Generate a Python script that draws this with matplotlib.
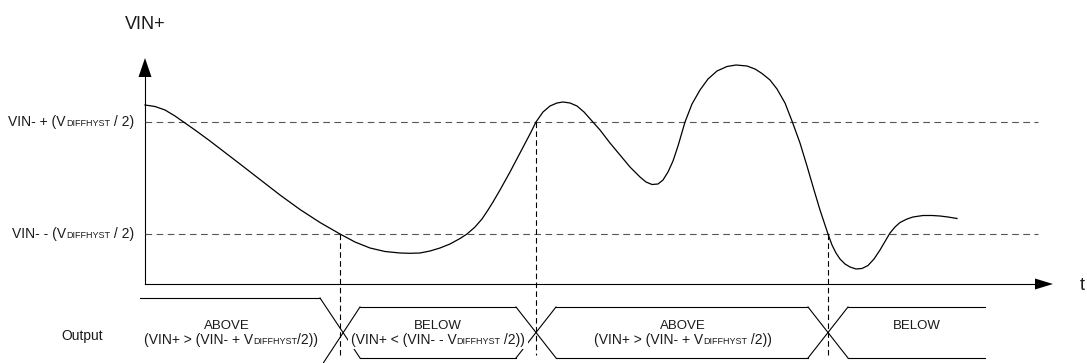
import matplotlib
matplotlib.use("Agg")
import matplotlib.pyplot as plt
from matplotlib.patches import Rectangle

plt.rcParams['font.family'] = ['Liberation Sans', 'DejaVu Sans']

# ---------------- data (diagram units: x = time, y = level, y grows downward) -------------
curve_t = [145, 155, 165, 175, 185, 195, 210, 225, 240, 260, 280, 300, 320, 340,
           355, 370, 385, 400, 410, 420, 430, 440, 450, 460, 467, 475, 482, 488, 493,
           500, 510, 520, 530, 536, 543, 550, 557, 563, 570, 577, 584, 592, 600, 610,
           620, 630, 640, 646, 652, 658, 663, 668, 673, 678, 685, 692, 700, 708, 717,
           727, 736, 747, 755, 762, 770, 777, 785, 792, 800, 807, 814, 820, 828, 832,
           836, 840, 845, 850, 856, 862, 868, 874, 880, 885, 890, 895, 900, 907, 913,
           923, 932, 940, 948, 957]
curve_v = [105, 106.5, 110, 116, 123, 130, 141, 152.5, 164, 179.5, 195, 209.5, 222.5, 234,
           242, 248, 251.5, 253, 253.3, 253, 251, 248, 244, 238.5, 234, 227, 219, 210, 202,
           190, 172, 153, 134, 122, 112, 106, 103, 102, 103, 106, 112, 121, 130, 143,
           155, 167, 177, 182, 184.5, 184, 180, 172, 161, 146, 122, 104, 90, 79, 71,
           66.5, 65, 66, 69, 73.5, 80, 89, 103, 121, 143, 166, 190, 210, 234, 245,
           253, 259, 264, 267, 269, 268.5, 265.5, 259, 250, 241.5, 233, 227, 222.5, 219, 217,
           215.5, 215.5, 216, 217, 218.5]

upper_level = 122          # VIN- + (VDIFFHYST / 2)
lower_level = 234          # VIN- - (VDIFFHYST / 2)
switch_t = [340, 536, 828] # output transitions (threshold crossings)

state_names = ["ABOVE", "BELOW", "ABOVE", "BELOW"]
state_desc = [
    [("(VIN+ > (VIN- + V", 10), ("DIFFHYST", 6.5), ("/2))", 10)],
    [("(VIN+ < (VIN- - V", 10), ("DIFFHYST", 6.5), (" /2))", 10)],
    [("(VIN+ > (VIN- + V", 10), ("DIFFHYST", 6.5), (" /2))", 10)],
    None,
]
upper_label = [("VIN- + (V", 10), ("DIFFHYST", 6.5), (" / 2)", 10)]
lower_label = [("VIN- - (V", 10), ("DIFFHYST", 6.5), (" / 2)", 10)]

# ---------------- layout ----------------
W, H = 1087, 363
fig = plt.figure(figsize=(W / 100, H / 100), dpi=100)
ax = fig.add_axes([0, 0, 1, 1])
ax.set_xlim(0, W)
ax.set_ylim(H, 0)
ax.axis('off')

axis_x0, axis_y0 = 145, 284
y_tip, x_tip = 58, 1053
lw = 0.8
ink = '#1a1a1a'

# axes with arrows
ax.plot([axis_x0, axis_x0], [axis_y0, y_tip + 18], color='black', lw=lw)
ax.fill([axis_x0 - 6.5, axis_x0 + 6.5, axis_x0], [y_tip + 19, y_tip + 19, y_tip], color='black', lw=0)
ax.plot([axis_x0, x_tip - 17], [axis_y0, axis_y0], color='black', lw=lw)
ax.fill([x_tip - 18, x_tip - 18, x_tip], [axis_y0 - 5.5, axis_y0 + 5.5, axis_y0], color='black', lw=0)

# threshold lines
for lev in (upper_level, lower_level):
    ax.plot([axis_x0, 1038], [lev, lev], color='#555555', lw=lw, ls=(0, (6, 4)))

# signal curve
ax.plot(curve_t, curve_v, color='black', lw=0.9, solid_joinstyle='round')

# vertical dashed markers at crossings
cross_levels = [lower_level, upper_level, lower_level]
for t, lev in zip(switch_t, cross_levels):
    ax.plot([t, t], [lev, 355], color='black', lw=lw, ls=(0, (5, 3)))

# output bus
half = 20
tops = [298, 307, 307, 307]
bots = [368, 358, 358, 358]
bus_x0, bus_x1 = 140, 985
edges = [bus_x0] + switch_t + [bus_x1]
for i in range(len(state_names)):
    left = edges[i] + (half if i > 0 else 0)
    right = edges[i + 1] - (half if i < len(state_names) - 1 else 0)
    ax.plot([left, right], [tops[i], tops[i]], color='black', lw=lw)
    ax.plot([left, right], [bots[i], bots[i]], color='black', lw=lw)
for i, c in enumerate(switch_t):
    ax.plot([c - half, c + half], [tops[i], bots[i + 1]], color='black', lw=lw)
    ax.plot([c - half, c + half], [bots[i], tops[i + 1]], color='black', lw=lw)

renderer = fig.canvas.get_renderer()


def rich_text(x, y, parts, ha='center', bg=False):
    X, Y = ax.transData.transform((x, y))
    texts, widths = [], []
    for s, size in parts:
        t = ax.text(0, 0, s, fontsize=size, transform=None, va='baseline', ha='left',
                    color=ink, zorder=5)
        widths.append(t.get_window_extent(renderer).width)
        texts.append(t)
    total = sum(widths)
    if ha == 'center':
        cur = X - total / 2
    elif ha == 'right':
        cur = X - total
    else:
        cur = X
    start = cur
    for t, w in zip(texts, widths):
        t.set_position((cur, Y))
        cur += w
    if bg:
        r = Rectangle((start - 3, Y - 5), total + 6, 16, transform=None,
                      facecolor='white', edgecolor='none', zorder=4)
        ax.add_artist(r)


# labels
ax.text(145, 29, "VIN+", fontsize=13, ha='center', va='baseline', color=ink)
ax.text(1080, 290, "t", fontsize=13, ha='left', va='baseline', color=ink)
rich_text(134, upper_level + 4, upper_label, ha='right')
rich_text(134, lower_level + 4, lower_label, ha='right')
ax.text(82, 340, "Output", fontsize=10, ha='center', va='baseline', color=ink)

name_centers = [227, 438, 683, 917]
desc_centers = [231, 438, 683, 917]
for name, desc, nx, dx in zip(state_names, state_desc, name_centers, desc_centers):
    ax.text(nx, 329, name, fontsize=9.5, ha='center', va='baseline', color=ink)
    if desc is not None:
        rich_text(dx, 344, desc, ha='center', bg=True)

fig.savefig("out.png", dpi=100)
